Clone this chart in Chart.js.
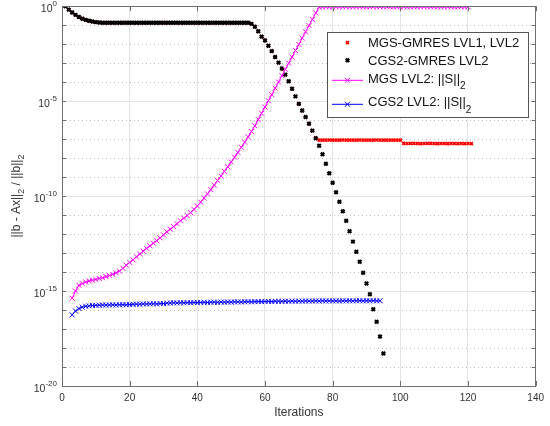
<!DOCTYPE html>
<html>
<head>
<meta charset="utf-8">
<title>GMRES residuals</title>
<script src="https://cdn.jsdelivr.net/npm/chart.js@4.4.1/dist/chart.umd.min.js"></script>
<style>
  html, body { margin: 0; padding: 0; background: #fff; }
  canvas { display: block; }
</style>
</head>
<body>
<canvas id="chart" width="550" height="426"></canvas>
<script>
// --- data (relative residual / ||S||_2 per iteration) ---

// MGS-GMRES LVL1, LVL2 residual, iterations 1..121
const mgsGmresStart = 1;
const mgsGmres = [
  1.0, 0.66, 0.47, 0.35, 0.27, 0.22, 0.19, 0.17, 0.155, 0.145, 0.138,
  0.135, 0.135, 0.135, 0.135, 0.135, 0.135, 0.135, 0.135, 0.135, 0.135, 0.135,
  0.135, 0.135, 0.135, 0.135, 0.135, 0.135, 0.135, 0.135, 0.135, 0.135, 0.135,
  0.135, 0.135, 0.135, 0.135, 0.135, 0.135, 0.135, 0.135, 0.135, 0.135, 0.135,
  0.135, 0.135, 0.135, 0.135, 0.135, 0.135, 0.135, 0.135, 0.135, 0.135, 0.135,
  0.117, 0.083, 0.048, 0.025, 0.0158, 0.0083, 0.0043, 0.0021, 0.00107, 5.2e-4,
  2.5e-4, 1.12e-4, 4.5e-5, 1.78e-5, 7.2e-6, 3.2e-6, 1.45e-6, 6.5e-7, 2.8e-7, 1.12e-7,
  8.9e-8, 8.8e-8, 8.9e-8, 9.0e-8, 8.9e-8, 8.8e-8, 8.9e-8, 9.0e-8, 8.9e-8, 8.9e-8,
  8.8e-8, 8.9e-8, 9.0e-8, 8.9e-8, 8.8e-8, 8.9e-8, 8.9e-8, 9.0e-8, 8.9e-8, 8.8e-8,
  8.9e-8, 8.9e-8, 8.8e-8, 8.9e-8, 8.8e-8,
  6.0e-8, 5.9e-8, 5.9e-8, 6.0e-8, 5.9e-8, 5.8e-8, 5.9e-8, 5.9e-8, 6.0e-8, 5.9e-8,
  5.8e-8, 5.9e-8, 5.9e-8, 5.8e-8, 5.9e-8, 5.9e-8, 5.8e-8, 5.9e-8, 5.8e-8, 5.9e-8,
  5.8e-8
];

// CGS2-GMRES LVL2 residual, iterations 1..95
const cgs2GmresStart = 1;
const cgs2Gmres = [
  1.0, 0.66, 0.47, 0.35, 0.27, 0.22, 0.19, 0.17, 0.155, 0.145, 0.138,
  0.135, 0.135, 0.135, 0.135, 0.135, 0.135, 0.135, 0.135, 0.135, 0.135, 0.135,
  0.135, 0.135, 0.135, 0.135, 0.135, 0.135, 0.135, 0.135, 0.135, 0.135, 0.135,
  0.135, 0.135, 0.135, 0.135, 0.135, 0.135, 0.135, 0.135, 0.135, 0.135, 0.135,
  0.135, 0.135, 0.135, 0.135, 0.135, 0.135, 0.135, 0.135, 0.135, 0.135, 0.135,
  0.117, 0.083, 0.048, 0.025, 0.0158, 0.0083, 0.0043, 0.0021, 0.00107, 5.2e-4,
  2.5e-4, 1.12e-4, 4.5e-5, 1.78e-5, 7.2e-6, 3.2e-6, 1.45e-6, 6.5e-7, 2.8e-7, 1.12e-7,
  4.5e-8, 1.58e-8, 5.0e-9, 1.58e-9, 5.0e-10, 1.58e-10, 5.0e-11, 1.58e-11, 5.0e-12, 1.41e-12,
  4.0e-13, 1.17e-13, 3.5e-14, 9.1e-15, 2.5e-15, 6.8e-16, 1.1e-16, 2.4e-17, 4.0e-18, 5.2e-19
];

// MGS LVL2 ||S||_2, iterations 3..120
const mgsNormSStart = 3;
const mgsNormS = [
  4.2e-16, 1.0e-15, 2.0e-15, 2.5e-15, 3.0e-15, 3.4e-15, 3.7e-15, 4.1e-15,
  4.6e-15, 5.0e-15, 5.8e-15, 6.6e-15, 7.6e-15, 9.1e-15, 1.12e-14, 1.58e-14, 2.3e-14, 3.2e-14,
  4.4e-14, 6.3e-14, 8.9e-14, 1.26e-13, 1.78e-13, 2.4e-13, 3.3e-13, 4.5e-13, 6.3e-13, 9.1e-13,
  1.32e-12, 1.82e-12, 2.5e-12, 3.5e-12, 5.0e-12, 6.9e-12, 9.5e-12, 1.35e-11, 2.0e-11, 3.0e-11,
  4.8e-11, 7.9e-11, 1.32e-10, 2.2e-10, 3.8e-10, 6.6e-10, 1.12e-9, 2.0e-9, 3.5e-9, 6.3e-9,
  1.12e-8, 2.0e-8, 3.7e-8, 6.9e-8, 1.32e-7, 2.5e-7, 5.0e-7, 1.07e-6, 2.3e-6, 4.9e-6,
  1.05e-5, 2.2e-5, 4.8e-5, 1.02e-4, 2.2e-4, 4.7e-4, 1.0e-3, 2.1e-3, 4.6e-3, 9.8e-3,
  0.021, 0.045, 0.095, 0.20, 0.44, 0.89,
  0.93, 0.93, 0.93, 0.93, 0.93, 0.93, 0.93, 0.93, 0.93, 0.93, 0.93,
  0.93, 0.93, 0.93, 0.93, 0.93, 0.93, 0.93, 0.93, 0.93, 0.93, 0.93,
  0.93, 0.93, 0.93, 0.93, 0.93, 0.93, 0.93, 0.93, 0.93, 0.93, 0.93,
  0.93, 0.93, 0.93, 0.93, 0.93, 0.93, 0.93, 0.93, 0.93, 0.93, 0.93
];

// CGS2 LVL2 ||S||_2, iterations 3..94
const cgs2NormSStart = 3;
const cgs2NormS = [
  5.6e-17, 8.9e-17, 1.2e-16, 1.41e-16, 1.58e-16, 1.66e-16, 1.74e-16, 1.78e-16,
  1.8e-16, 1.84e-16, 1.82e-16, 1.86e-16, 1.88e-16, 1.86e-16, 1.9e-16, 1.92e-16, 1.9e-16, 1.95e-16,
  2.0e-16, 2.05e-16, 2.02e-16, 2.1e-16, 2.08e-16, 2.12e-16, 2.15e-16, 2.1e-16, 2.18e-16, 2.2e-16,
  2.3e-16, 2.35e-16, 2.4e-16, 2.38e-16, 2.42e-16, 2.4e-16, 2.45e-16, 2.43e-16, 2.48e-16, 2.45e-16,
  2.5e-16, 2.55e-16, 2.52e-16, 2.58e-16, 2.6e-16, 2.56e-16, 2.62e-16, 2.6e-16, 2.65e-16, 2.62e-16,
  2.68e-16, 2.7e-16, 2.66e-16, 2.72e-16, 2.75e-16, 2.7e-16, 2.78e-16, 2.8e-16, 2.76e-16, 2.82e-16,
  2.85e-16, 2.8e-16, 2.88e-16, 2.9e-16, 2.86e-16, 2.92e-16, 2.9e-16, 2.95e-16, 2.92e-16, 2.98e-16,
  2.95e-16, 3.0e-16, 2.96e-16, 3.0e-16, 3.02e-16, 2.98e-16, 3.05e-16, 3.0e-16, 3.04e-16, 3.02e-16,
  3.05e-16, 3.0e-16, 3.06e-16, 3.02e-16, 3.08e-16, 3.04e-16, 3.06e-16, 3.1e-16, 3.05e-16, 3.08e-16,
  3.06e-16, 3.1e-16, 3.05e-16, 3.08e-16
];

// axis ticks
const xTicks = [0, 20, 40, 60, 80, 100, 120, 140];
const yDecades = [-20, -19, -18, -17, -16, -15, -14, -13, -12, -11, -10,
                  -9, -8, -7, -6, -5, -4, -3, -2, -1, 0];

const FONT = '"Liberation Sans", Helvetica, Arial, sans-serif';
const axisColor = '#6e6e6e';
const textColor = '#333';

const toPoints = (values, start) => values.map((v, i) => ({ x: start + i, y: v }));
const isMajor = value => Math.round(Math.log10(value)) % 5 === 0;

// draws text where '_2' means a subscript 2
function drawRich(ctx, text, x, y, size, subSize, subShift, align) {
  const parts = [];
  text.split('_').forEach((chunk, i) => {
    if (i === 0) { parts.push([chunk, false]); return; }
    parts.push([chunk.charAt(0), true]);
    if (chunk.length > 1) parts.push([chunk.slice(1), false]);
  });
  const widths = parts.map(([t, sub]) => {
    ctx.font = `${sub ? subSize : size}px ${FONT}`;
    return ctx.measureText(t).width;
  });
  const total = widths.reduce((a, b) => a + b, 0);
  let cx = align === 'center' ? x - total / 2 : x;
  ctx.textAlign = 'left';
  ctx.textBaseline = 'alphabetic';
  parts.forEach(([t, sub], i) => {
    ctx.font = `${sub ? subSize : size}px ${FONT}`;
    ctx.fillText(t, cx, sub ? y + subShift : y);
    cx += widths[i];
  });
}

function drawMarker(ctx, style, x, y, r) {
  ctx.beginPath();
  if (style === 'star') {
    ctx.moveTo(x - r, y); ctx.lineTo(x + r, y);
    ctx.moveTo(x, y - r); ctx.lineTo(x, y + r);
  }
  const d = r * 0.707;
  ctx.moveTo(x - d, y - d); ctx.lineTo(x + d, y + d);
  ctx.moveTo(x - d, y + d); ctx.lineTo(x + d, y - d);
  ctx.stroke();
}

// minor grid, box, inside ticks, y labels with exponents, y title, legend
const matlabLook = {
  id: 'matlabLook',
  beforeDatasetsDraw(chart) {
    const { ctx, chartArea: a, scales: { y } } = chart;
    ctx.save();
    ctx.strokeStyle = '#bdbdbd';
    ctx.lineWidth = 1;
    ctx.setLineDash([1, 3]);
    y.ticks.forEach(t => {
      if (isMajor(t.value)) return;
      const py = Math.round(y.getPixelForValue(t.value)) + 0.5;
      ctx.beginPath(); ctx.moveTo(a.left, py); ctx.lineTo(a.right, py); ctx.stroke();
    });
    ctx.restore();
  },
  afterDraw(chart) {
    const { ctx, chartArea: a, scales: { x, y } } = chart;
    ctx.save();

    // top and right edges of the box
    ctx.strokeStyle = axisColor;
    ctx.lineWidth = 1;
    ctx.beginPath();
    ctx.moveTo(a.left, Math.round(a.top) + 0.5);
    ctx.lineTo(Math.round(a.right) - 0.5, Math.round(a.top) + 0.5);
    ctx.lineTo(Math.round(a.right) - 0.5, a.bottom);
    ctx.stroke();

    // ticks pointing inwards
    ctx.beginPath();
    x.ticks.forEach(t => {
      const px = Math.round(x.getPixelForValue(t.value)) + 0.5;
      ctx.moveTo(px, a.bottom); ctx.lineTo(px, a.bottom - 5);
      ctx.moveTo(px, a.top); ctx.lineTo(px, a.top + 5);
    });
    y.ticks.forEach(t => {
      const py = Math.round(y.getPixelForValue(t.value)) + 0.5;
      ctx.moveTo(a.left, py); ctx.lineTo(a.left + 4, py);
      ctx.moveTo(a.right, py); ctx.lineTo(a.right - 4, py);
    });
    ctx.stroke();

    // y tick labels 10^e
    ctx.fillStyle = textColor;
    ctx.textAlign = 'right';
    ctx.textBaseline = 'middle';
    y.ticks.forEach(t => {
      if (!isMajor(t.value)) return;
      const e = Math.round(Math.log10(t.value));
      const py = y.getPixelForValue(t.value);
      ctx.font = `8px ${FONT}`;
      const exp = String(e);
      const ew = ctx.measureText(exp).width;
      ctx.fillText(exp, a.left - 5, py - 2);
      ctx.font = `10.5px ${FONT}`;
      ctx.fillText('10', a.left - 5 - ew, py + 3);
    });

    // y axis title
    ctx.save();
    ctx.translate(16, (a.top + a.bottom) / 2);
    ctx.rotate(-Math.PI / 2);
    drawRich(ctx, '||b - Ax||_2 / ||b||_2', 0, 4.3, 12, 9, 4, 'center');
    ctx.restore();

    // legend
    const box = { left: 327, top: 32, right: 528, bottom: 117 };
    ctx.fillStyle = '#fff';
    ctx.fillRect(box.left, box.top, box.right - box.left, box.bottom - box.top);
    ctx.strokeStyle = '#555';
    ctx.strokeRect(box.left + 0.5, box.top + 0.5, box.right - box.left, box.bottom - box.top);
    const rows = [42.7, 60.3, 78.3, 101.7];
    const samples = [42.7, 60.3, 80.3, 104.3];
    chart.data.datasets.forEach((ds, i) => {
      const sy = samples[i];
      ctx.strokeStyle = ds.borderColor;
      if (ds.showLine) {
        ctx.lineWidth = 1;
        ctx.beginPath(); ctx.moveTo(332, sy); ctx.lineTo(363, sy); ctx.stroke();
      }
      ctx.lineWidth = ds.pointBorderWidth;
      drawMarker(ctx, ds.pointStyle, 347.5, sy, ds.pointRadius);
      ctx.fillStyle = '#111';
      drawRich(ctx, ds.label, 368, rows[i] + 4.6, 13, 10, 6.5, 'left');
    });
    ctx.restore();
  }
};

new Chart(document.getElementById('chart'), {
  type: 'line',
  data: {
    datasets: [
      {
        label: 'MGS-GMRES LVL1, LVL2',
        data: toPoints(mgsGmres, mgsGmresStart),
        showLine: false,
        borderColor: '#ff0000',
        backgroundColor: '#ff0000',
        pointStyle: 'crossRot', pointRadius: 2.1, pointBorderWidth: 1.7,
        order: 4
      },
      {
        label: 'CGS2-GMRES LVL2',
        data: toPoints(cgs2Gmres, cgs2GmresStart),
        showLine: false,
        borderColor: '#000000',
        backgroundColor: '#000000',
        pointStyle: 'crossRot', pointRadius: 2.4, pointBorderWidth: 2.2,
        order: 3
      },
      {
        label: 'MGS LVL2: ||S||_2',
        data: toPoints(mgsNormS, mgsNormSStart),
        showLine: true,
        borderColor: '#ff00ff',
        backgroundColor: '#ff00ff',
        borderWidth: 1,
        pointStyle: 'crossRot', pointRadius: 3.5, pointBorderWidth: 1,
        order: 2
      },
      {
        label: 'CGS2 LVL2: ||S||_2',
        data: toPoints(cgs2NormS, cgs2NormSStart),
        showLine: true,
        borderColor: '#0000ff',
        backgroundColor: '#0000ff',
        borderWidth: 1,
        pointStyle: 'crossRot', pointRadius: 3.5, pointBorderWidth: 1,
        order: 1
      }
    ]
  },
  options: {
    responsive: false,
    animation: false,
    devicePixelRatio: 1,
    events: [],
    layout: { padding: { top: 6, right: 10, left: 0, bottom: 0 } },
    elements: { line: { tension: 0 } },
    plugins: {
      legend: { display: false },
      tooltip: { enabled: false }
    },
    scales: {
      x: {
        type: 'linear',
        min: xTicks[0],
        max: xTicks[xTicks.length - 1],
        afterBuildTicks: s => { s.ticks = xTicks.map(v => ({ value: v })); },
        ticks: { color: textColor, padding: 6, maxRotation: 0, font: { family: FONT, size: 10 } },
        grid: { color: '#e4e4e4', drawTicks: false },
        border: { color: axisColor },
        title: {
          display: true,
          text: 'Iterations',
          color: textColor,
          font: { family: FONT, size: 12 },
          padding: { top: 0, bottom: 6 }
        },
        afterFit: s => { s.height = 40; }
      },
      y: {
        type: 'logarithmic',
        min: Math.pow(10, yDecades[0]),
        max: Math.pow(10, yDecades[yDecades.length - 1]),
        afterBuildTicks: s => { s.ticks = yDecades.map(e => ({ value: Math.pow(10, e) })); },
        ticks: { display: false },
        grid: {
          drawTicks: false,
          color: c => (c.tick && isMajor(c.tick.value)) ? '#e4e4e4' : 'rgba(0,0,0,0)'
        },
        border: { color: axisColor },
        afterFit: s => { s.width = 62; }
      }
    }
  },
  plugins: [matlabLook]
});
</script>
</body>
</html>
